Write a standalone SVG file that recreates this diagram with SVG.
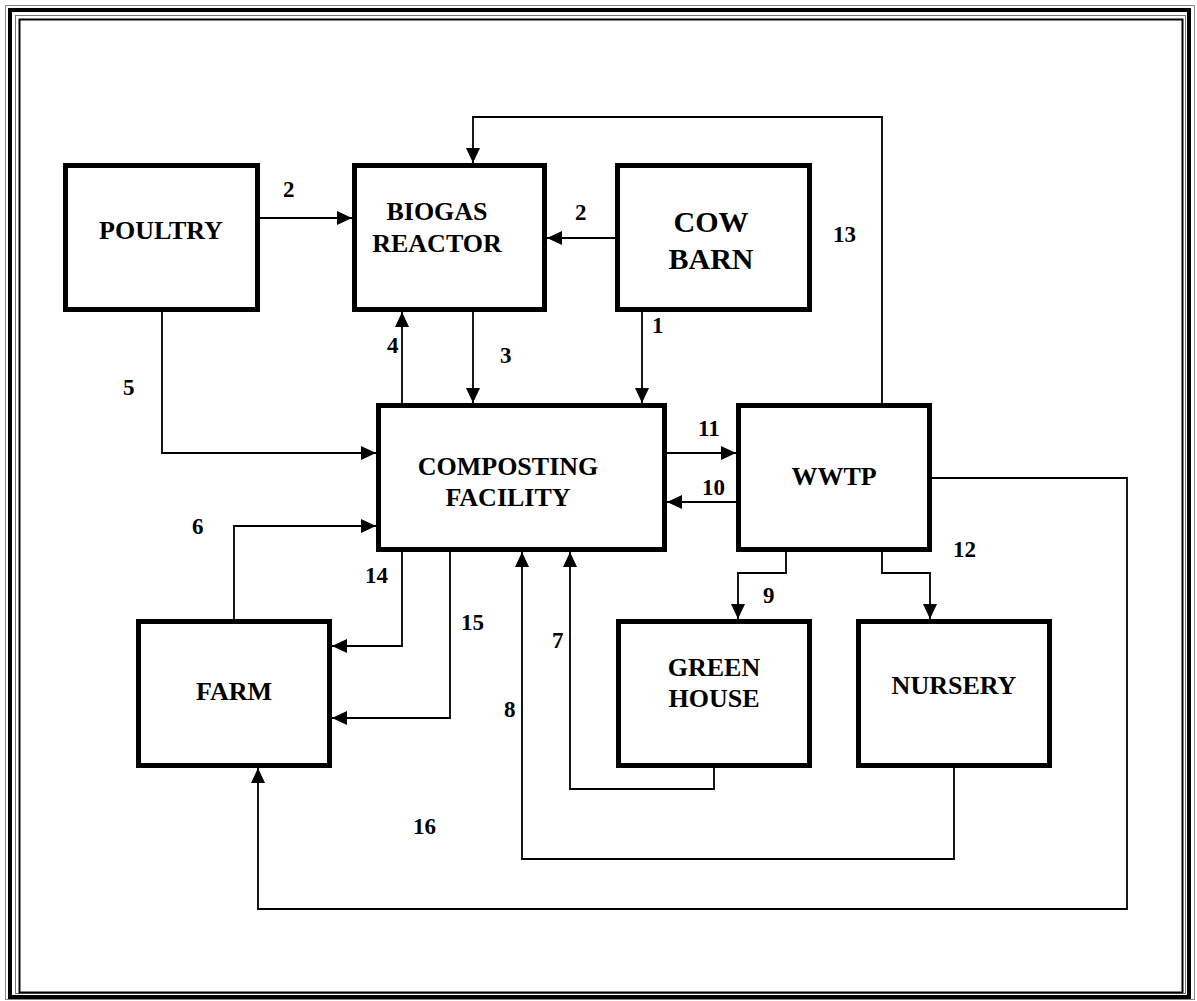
<svg xmlns="http://www.w3.org/2000/svg" width="1197" height="1001" viewBox="0 0 1197 1001" font-family="Liberation Serif, Times New Roman, serif">
<style>
text{font-weight:bold;fill:#000}
.box{fill:#fff;stroke:#000;stroke-width:5}
.lbl{font-size:26px;text-anchor:middle}
.big{font-size:30px}
.num{font-size:23px}
.con path{fill:none;stroke:#000;stroke-width:1.8}
</style>
<defs>
<marker id="ah" markerUnits="userSpaceOnUse" markerWidth="16" markerHeight="15" refX="15" refY="7" orient="auto">
<path d="M0,0 L15,7 L0,14 z" fill="#000"/>
</marker>
</defs>
<rect x="0" y="0" width="1197" height="1001" fill="#fff"/>
<g id="frame" fill="none">
<rect x="5.5" y="5.5" width="1189" height="994" stroke="#888" stroke-width="1"/>
<rect x="10" y="10" width="1179" height="987" stroke="#000" stroke-width="4"/>
<rect x="15.5" y="15.5" width="1170" height="978" stroke="#777" stroke-width="1"/>
<rect x="19.5" y="19.5" width="1163" height="973" stroke="#000" stroke-width="2"/>
</g>
<g id="connectors" class="con">
<path d="M258,218 H352" marker-end="url(#ah)"/>
<path d="M617,238 H547" marker-end="url(#ah)"/>
<path d="M882,405 V117 H473 V163" marker-end="url(#ah)"/>
<path d="M473,310 V403" marker-end="url(#ah)"/>
<path d="M402,405 V312" marker-end="url(#ah)"/>
<path d="M642,310 V403" marker-end="url(#ah)"/>
<path d="M162,310 V453 H376" marker-end="url(#ah)"/>
<path d="M665,453 H736" marker-end="url(#ah)"/>
<path d="M738,502 H667" marker-end="url(#ah)"/>
<path d="M234,621 V526 H376" marker-end="url(#ah)"/>
<path d="M402,550 V646 H332" marker-end="url(#ah)"/>
<path d="M450,550 V718 H332" marker-end="url(#ah)"/>
<path d="M786,550 V573 H738 V619" marker-end="url(#ah)"/>
<path d="M882,550 V573 H930 V619" marker-end="url(#ah)"/>
<path d="M714,765 V789 H570 V552" marker-end="url(#ah)"/>
<path d="M954,765 V859 H522 V552" marker-end="url(#ah)"/>
<path d="M930,478 H1127 V909 H258 V768" marker-end="url(#ah)"/>
</g>
<g id="labels">
<text class="num" x="283" y="197">2</text>
<text class="num" x="575" y="220">2</text>
<text class="num" x="833" y="242">13</text>
<text class="num" x="652" y="333">1</text>
<text class="num" x="500" y="363">3</text>
<text class="num" x="387" y="353">4</text>
<text class="num" x="123" y="395">5</text>
<text class="num" x="192" y="534">6</text>
<text class="num" x="698" y="436">11</text>
<text class="num" x="702" y="495">10</text>
<text class="num" x="365" y="583">14</text>
<text class="num" x="461" y="630">15</text>
<text class="num" x="763" y="603">9</text>
<text class="num" x="953" y="557">12</text>
<text class="num" x="552" y="648">7</text>
<text class="num" x="504" y="717">8</text>
<text class="num" x="413" y="834">16</text>
</g>
<g id="poultry">
<rect class="box" x="65.5" y="165.5" width="192" height="144"/>
<text class="lbl" x="161" y="239">POULTRY</text>
</g>
<g id="biogas">
<rect class="box" x="354.5" y="165.5" width="190" height="144"/>
<text class="lbl" x="437" y="220">BIOGAS</text>
<text class="lbl" x="437" y="252">REACTOR</text>
</g>
<g id="cowbarn">
<rect class="box" x="617.5" y="165.5" width="192" height="144"/>
<text class="lbl big" x="711" y="232">COW</text>
<text class="lbl big" x="711" y="269">BARN</text>
</g>
<g id="composting">
<rect class="box" x="378.5" y="405.5" width="286" height="144"/>
<text class="lbl" x="508" y="475">COMPOSTING</text>
<text class="lbl" x="508" y="506">FACILITY</text>
</g>
<g id="wwtp">
<rect class="box" x="738.5" y="405.5" width="191" height="144"/>
<text class="lbl" x="834" y="485">WWTP</text>
</g>
<g id="farm">
<rect class="box" x="138.5" y="621.5" width="191" height="144"/>
<text class="lbl" x="234" y="700">FARM</text>
</g>
<g id="greenhouse">
<rect class="box" x="618.5" y="621.5" width="191" height="144"/>
<text class="lbl" x="714" y="676">GREEN</text>
<text class="lbl" x="714" y="707">HOUSE</text>
</g>
<g id="nursery">
<rect class="box" x="858.5" y="621.5" width="191" height="144"/>
<text class="lbl" x="954" y="694">NURSERY</text>
</g>
</svg>
